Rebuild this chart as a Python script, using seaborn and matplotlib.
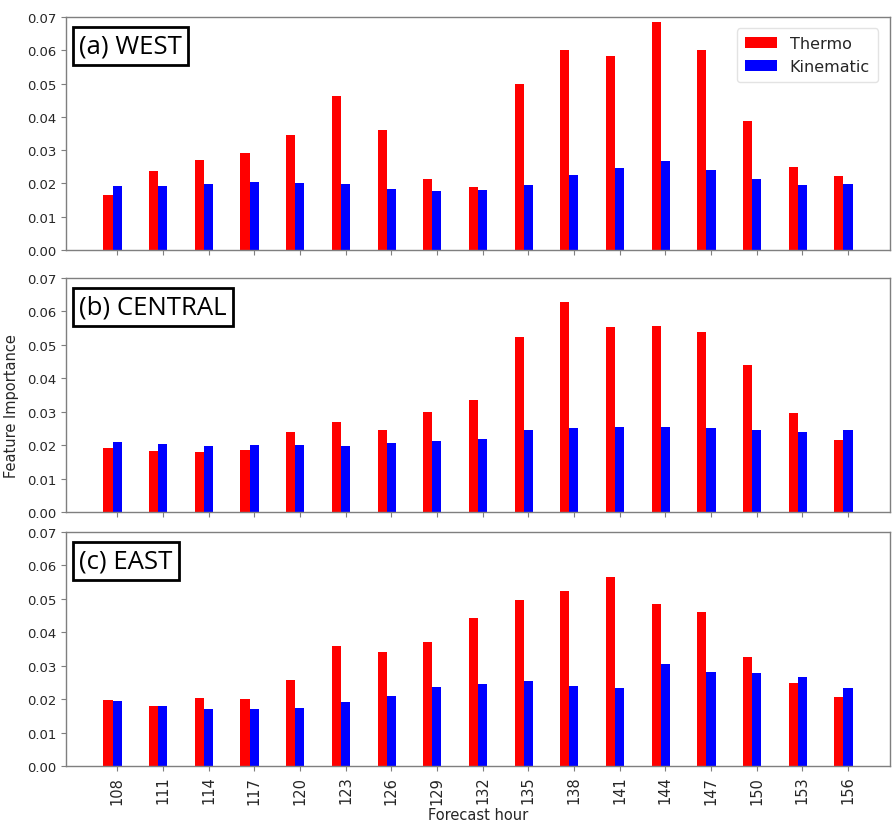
import numpy as np
import pandas as pd
import matplotlib
matplotlib.use("Agg")
import matplotlib.pyplot as plt
import seaborn as sns

hours = [108, 111, 114, 117, 120, 123, 126, 129, 132, 135, 138, 141, 144, 147, 150, 153, 156]

west_thermo = [0.0165, 0.0237, 0.0270, 0.0290, 0.0345, 0.0463, 0.0362, 0.0213, 0.0190,
               0.0500, 0.0600, 0.0583, 0.0685, 0.0600, 0.0388, 0.0248, 0.0223]
west_kin = [0.0193, 0.0193, 0.0198, 0.0203, 0.0201, 0.0198, 0.0184, 0.0177, 0.0181,
            0.0196, 0.0225, 0.0245, 0.0267, 0.0240, 0.0213, 0.0194, 0.0199]

central_thermo = [0.0190, 0.0181, 0.0179, 0.0186, 0.0238, 0.0269, 0.0245, 0.0298, 0.0335,
                  0.0525, 0.0628, 0.0554, 0.0557, 0.0537, 0.0439, 0.0295, 0.0216]
central_kin = [0.0210, 0.0203, 0.0196, 0.0201, 0.0201, 0.0196, 0.0206, 0.0213, 0.0218,
               0.0245, 0.0250, 0.0255, 0.0255, 0.0250, 0.0245, 0.0238, 0.0245]

east_thermo = [0.0196, 0.0179, 0.0204, 0.0201, 0.0258, 0.0360, 0.0340, 0.0370, 0.0444,
               0.0496, 0.0525, 0.0564, 0.0485, 0.0460, 0.0327, 0.0248, 0.0207]
east_kin = [0.0194, 0.0179, 0.0170, 0.0170, 0.0175, 0.0191, 0.0209, 0.0236, 0.0244,
            0.0254, 0.0240, 0.0232, 0.0305, 0.0281, 0.0278, 0.0266, 0.0234]

panels = ["(a) WEST", "(b) CENTRAL", "(c) EAST"]
series = ["Thermo", "Kinematic"]
yticks = [0.00, 0.01, 0.02, 0.03, 0.04, 0.05, 0.06, 0.07]

data = {
    "(a) WEST": (west_thermo, west_kin),
    "(b) CENTRAL": (central_thermo, central_kin),
    "(c) EAST": (east_thermo, east_kin),
}

sns.set_style("ticks")
plt.rcParams["font.family"] = ["DejaVu Sans"]

W, H = 896, 829
fig = plt.figure(figsize=(W / 100, H / 100), dpi=100)

boxes = [(18, 251), (279, 513), (533, 767)]
left_px, right_px = 66, 890
palette = {"Thermo": "#ff0000", "Kinematic": "#0000ff"}
spine_col = "#7f7f7f"

for k, (name, (top, bot)) in enumerate(zip(panels, boxes)):
    ax = fig.add_axes([left_px / W, 1 - bot / H, (right_px - left_px) / W, (bot - top) / H])
    th, kn = data[name]
    df = pd.DataFrame({
        "hour": [str(h) for h in hours] * 2,
        "value": list(th) + list(kn),
        "series": ["Thermo"] * len(hours) + ["Kinematic"] * len(hours),
    })
    sns.barplot(data=df, x="hour", y="value", hue="series", hue_order=series,
                palette=palette, saturation=1, width=0.4, ax=ax,
                edgecolor="none", legend=(k == 0))
    ax.set_ylim(0, 0.07)
    ax.set_yticks(yticks)
    ax.set_yticklabels([f"{v:.2f}" for v in yticks], fontsize=9.5, color="#262626")
    ax.set_xlim(-1.02, 17.02)
    ax.set_xticks(np.arange(len(hours)) + 0.1)
    if k == 2:
        ax.set_xticklabels([str(h) for h in hours], rotation=90, fontsize=10.5, color="#262626")
    else:
        ax.set_xticklabels([])
    ax.set_xlabel("")
    ax.set_ylabel("")
    for s in ax.spines.values():
        s.set_color(spine_col)
        s.set_linewidth(1.0)
    ax.tick_params(colors=spine_col, labelcolor="#262626", length=3.5, width=0.8)
    ax.text(0.016, 0.93, name, transform=ax.transAxes, ha="left", va="top",
            fontsize=18.5, family=["Open Sans", "DejaVu Sans"], color="black",
            bbox=dict(boxstyle="square,pad=0.25", facecolor="white", edgecolor="black", linewidth=2.0))
    if k == 0:
        leg = ax.legend(loc="upper right", fontsize=11.5, frameon=True, handlelength=2.0,
                        borderpad=0.5, bbox_to_anchor=(0.995, 0.985))
        leg.set_title(None)
        leg.get_frame().set_edgecolor("#dddddd")

fig.text(12 / W, 1 - 406 / H, "Feature Importance", rotation=90, ha="center", va="center",
         fontsize=10.5, color="#262626")
fig.text(478 / W, 1 - 816 / H, "Forecast hour", ha="center", va="center",
         fontsize=10.5, color="#262626")

fig.savefig("out.png", dpi=100)
